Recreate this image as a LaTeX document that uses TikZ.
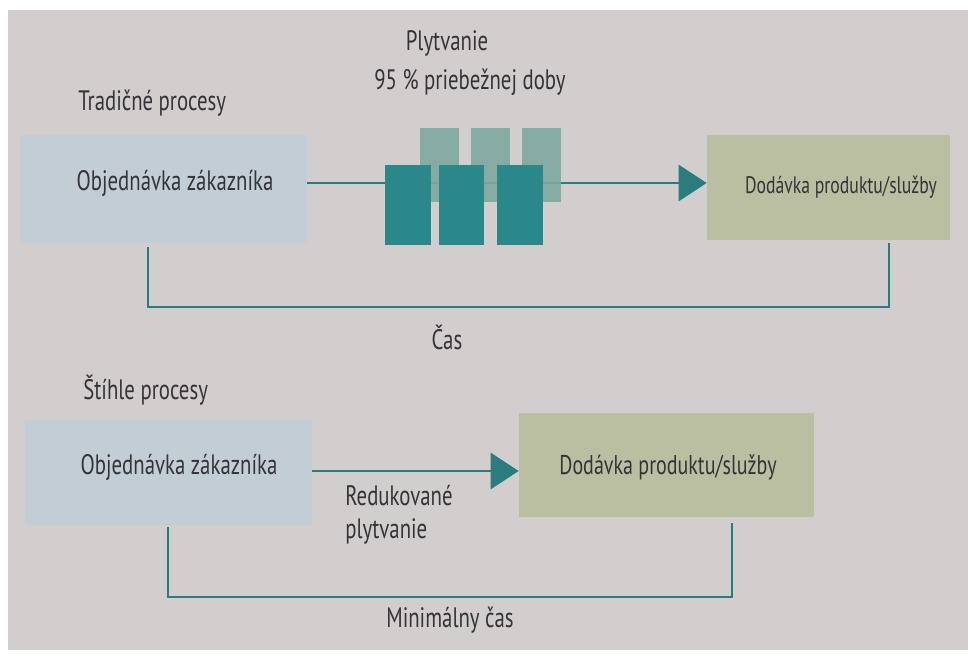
\documentclass[tikz,border=0pt]{standalone}
\usepackage{fontspec}
\setmainfont[FakeStretch=0.74]{PT Sans}
\usepackage{tikz}
\usetikzlibrary{arrows.meta, positioning}

\definecolor{pagegray}{RGB}{210,206,206}
\definecolor{orderblue}{RGB}{194,205,214}
\definecolor{deliverygreen}{RGB}{186,191,162}
\definecolor{wastedark}{RGB}{42,136,138}
\definecolor{wastelight}{RGB}{126,168,158}
\definecolor{flowteal}{RGB}{44,124,126}
\definecolor{inkgray}{RGB}{52,52,56}

\tikzset{
  lbl/.style={font=\fontsize{16}{19}\selectfont, text=inkgray, inner sep=0pt},
  orderbox/.style={fill=orderblue, inner sep=0pt},
  deliverybox/.style={fill=deliverygreen, inner sep=0pt},
  wastefront/.style={fill=wastedark, inner sep=0pt, minimum width=0.92cm, minimum height=1.6cm},
  wasteback/.style={fill=wastelight, inner sep=0pt, minimum width=0.78cm, minimum height=1.48cm, opacity=0.9},
  flow/.style={draw=flowteal, line width=1.7pt, -{Triangle[length=0.56cm, width=0.72cm]}},
  timeline/.style={draw=flowteal, line width=1.4pt}
}

\begin{document}
\begin{tikzpicture}[x=0.02cm, y=-0.02cm]
    % page
    \useasboundingbox (0,0) rectangle (968,659);
    \fill[white] (0,0) rectangle (968,659);
    \fill[pagegray] (8,10) rectangle (968,650);

    % traditional process
    \node[lbl] (waste) at (447,43) {Plytvanie};
    \node[lbl] (share) at (470,82) {95 \% priebežnej doby};
    \node[lbl, anchor=west] (trad) at (78,103) {Tradičné procesy};
    \node[orderbox, minimum width=5.74cm, minimum height=2.16cm] (ord1) at (163.5,189) {};
    \node[lbl] (ordtxt1) at (175,183) {Objednávka zákazníka};
    \node[deliverybox, minimum width=4.86cm, minimum height=2.10cm] (dod1) at (828.5,187.5) {};
    \node[lbl, font=\fontsize{13.6}{16}\selectfont] (dodtxt1) at (841,187) {Dodávka produktu/služby};
    \draw[flow] (ord1.east |- ordtxt1) -- (dod1.west |- ordtxt1);
    \foreach \x [count=\i] in {439.5, 490.5, 541.5}
      \node[wasteback] (back\i) at (\x,165) {};
    \foreach \x [count=\i] in {408, 461.5, 520}
      \node[wastefront] (front\i) at (\x,205) {};
    \coordinate (t1a) at (148,247);
    \coordinate (t1b) at (889,243);
    \draw[timeline] (t1a) |- (889,307) -- (t1b);
    \node[lbl] (cas) at (447,337) {Čas};

    % lean process
    \node[lbl, anchor=west] (lean) at (83,390) {Štíhle procesy};
    \node[orderbox, minimum width=5.74cm, minimum height=2.10cm] (ord2) at (168.5,472.5) {};
    \node[lbl] (ordtxt2) at (179,467) {Objednávka zákazníka};
    \node[deliverybox, minimum width=5.90cm, minimum height=2.08cm] (dod2) at (666.5,465) {};
    \node[lbl, font=\fontsize{15.4}{18}\selectfont] (dodtxt2) at (668,467) {Dodávka produktu/služby};
    \draw[flow] (ord2.east |- 0,471) -- (dod2.west |- 0,471);
    \node[lbl, anchor=north west, align=left] (reduced) at (345,485) {Redukované\\plytvanie};
    \coordinate (t2a) at (168,527);
    \coordinate (t2b) at (732,523);
    \draw[timeline] (t2a) |- (732,597) -- (t2b);
    \node[lbl] (mincas) at (450,620) {Minimálny čas};
\end{tikzpicture}
\end{document}
